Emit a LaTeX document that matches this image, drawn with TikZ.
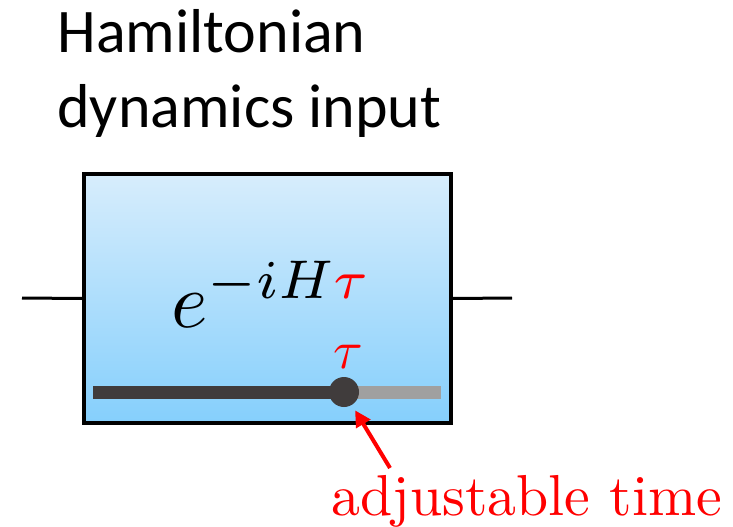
\documentclass[tikz,border=0pt]{standalone}
\usepackage{fontspec}
\newfontfamily\calibrilike{Carlito}
\usetikzlibrary{arrows.meta,positioning}
\definecolor{BoxTop}{RGB}{215,237,252}
\definecolor{BoxBottom}{RGB}{133,207,252}
\definecolor{SlideDark}{RGB}{64,60,60}
\definecolor{SlideLight}{RGB}{160,160,160}
\definecolor{LabelRed}{RGB}{255,0,0}
\tikzset{
hambox/.style={draw=black, line width=1.75pt, top color=BoxTop, bottom color=BoxBottom, minimum width=183.5pt, minimum height=124.5pt, inner sep=0pt},
wire/.style={draw=black, line width=1.5pt},
slidedone/.style={draw=SlideDark, line width=6.5pt},
slidefree/.style={draw=SlideLight, line width=6.5pt},
knob/.style={circle, fill=SlideDark, minimum size=15pt, inner sep=0pt},
pointer/.style={-{Triangle[length=8pt,width=8pt]}, draw=LabelRed, line width=2pt, shorten >=3pt},
titletext/.style={font=\calibrilike\fontsize{31}{37.5}\selectfont, align=left, inner sep=0pt}
}

\begin{document}
\begin{tikzpicture}[x=0.5pt, y=0.5pt]
  \useasboundingbox (0,0) rectangle (733,526);
  \node[titletext, anchor=base west] (title) at (57,399) {Hamiltonian\\dynamics input};
  \node[hambox] (gate) at (267.5,227.5) {};
  \coordinate (in) at (22,228);
  \coordinate (out) at (512,228);
  \draw[wire] (in) -- (gate.west);
  \draw[wire] (gate.east) -- (out);
  \node[anchor=base west, inner sep=0pt, scale=3.9] (unitary) at (170,199) {$e^{-iH\textcolor{LabelRed}{\tau}}$};
  % slider for the evolution time
  \coordinate (slidestart) at (93,134);
  \coordinate (slideend) at (441,134);
  \coordinate (knobpos) at (344,134);
  \draw[slidedone] (slidestart) -- (knobpos);
  \draw[slidefree] (knobpos) -- (slideend);
  \node[knob] (knob) at (knobpos) {};
  \node[anchor=base, inner sep=0pt, scale=2.7, text=LabelRed] (tau) at (348,158) {$\tau$};
  \node[anchor=base, inner sep=0pt, scale=2.89, text=LabelRed] (timelabel) at (527,11) {adjustable time};
  \coordinate (tail) at (390,58);
  \draw[pointer] (tail) -- (knob);
\end{tikzpicture}
\end{document}
